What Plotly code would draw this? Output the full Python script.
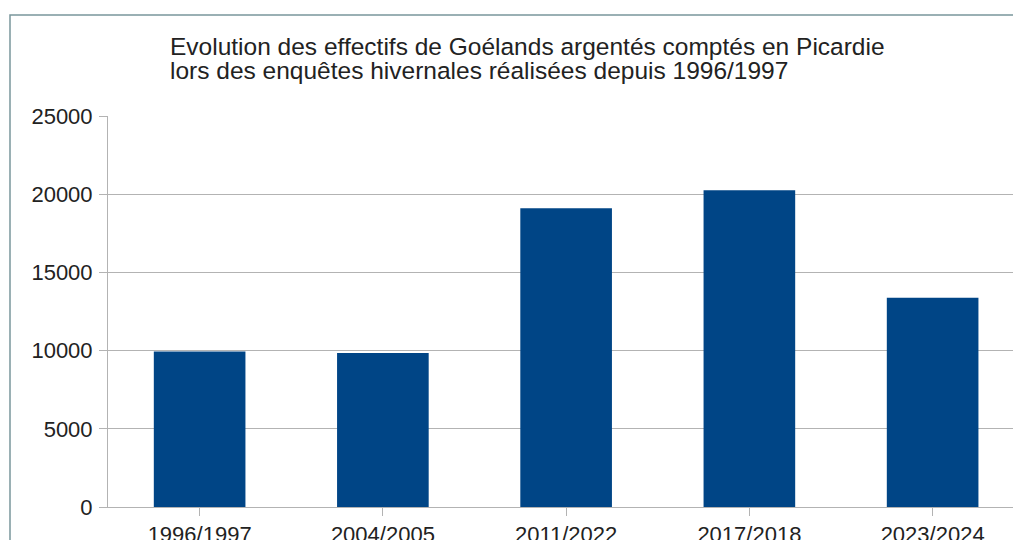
import plotly.graph_objects as go

categories = ["1996/1997", "2004/2005", "2011/2022", "2017/2018", "2023/2024"]
values = [9950, 9850, 19100, 20250, 13380]
y_ticks = [0, 5000, 10000, 15000, 20000, 25000]
title_lines = ["Evolution des effectifs de Goélands argentés comptés en Picardie",
               "lors des enquêtes hivernales réalisées depuis 1996/1997"]

W, H = 1021, 540
OFF = 8  # page body margin offset
L, R, T, B = 108 - OFF, 0, 116 - OFF, 540 - (507 - OFF)
pw = W - L - R
ph = H - T - B
cat_w = 183.25
x_span = pw / cat_w

fig = go.Figure()
fig.add_trace(go.Bar(
    x=list(range(len(categories))), y=values,
    marker=dict(color="#004586", line=dict(width=0)),
    width=0.5,
))

grid = "#b3b3b3"
font = "Liberation Sans, Arial, sans-serif"
txt = "#222222"

fig.update_layout(
    width=W, height=H,
    margin=dict(l=L, r=R, t=T, b=B, autoexpand=False),
    paper_bgcolor="white", plot_bgcolor="white",
    showlegend=False,
    font=dict(family=font, size=22, color=txt),
    xaxis=dict(
        range=[-0.5, -0.5 + x_span],
        tickmode="array", tickvals=list(range(len(categories))), ticktext=categories,
        tickson="boundaries", ticks="outside", ticklen=8, tickcolor=grid,
        showline=True, linecolor=grid, linewidth=1,
        showgrid=False, zeroline=False,
        tickfont=dict(size=22, family=font, color=txt),
    ),
    yaxis=dict(
        range=[0, 25000],
        tickmode="array", tickvals=y_ticks, ticktext=[str(v) for v in y_ticks],
        ticks="outside", ticklen=8, tickcolor=grid,
        showline=True, linecolor=grid, linewidth=1,
        showgrid=True, gridcolor=grid, gridwidth=1,
        zeroline=False, ticklabelstandoff=2,
        tickfont=dict(size=22, family=font, color=txt),
    ),
)

def px_to_paper_x(px):
    return (px - OFF - L) / pw

def px_to_paper_y(py):
    return (H - B - (py - OFF)) / ph

# outer chart border (partially cropped)
fig.add_shape(type="rect", xref="paper", yref="paper",
              x0=px_to_paper_x(10), x1=px_to_paper_x(1060),
              y0=px_to_paper_y(600), y1=px_to_paper_y(15),
              line=dict(color="#7a969c", width=1.5), fillcolor="rgba(0,0,0,0)",
              layer="above")

for line, cy in zip(title_lines, [47, 71]):
    fig.add_annotation(
        xref="paper", yref="paper",
        x=px_to_paper_x(168), y=px_to_paper_y(cy),
        xanchor="left", yanchor="middle", align="left",
        text=line, showarrow=False,
        font=dict(size=24.5, family=font, color=txt),
    )

fig.write_html("out.html")
